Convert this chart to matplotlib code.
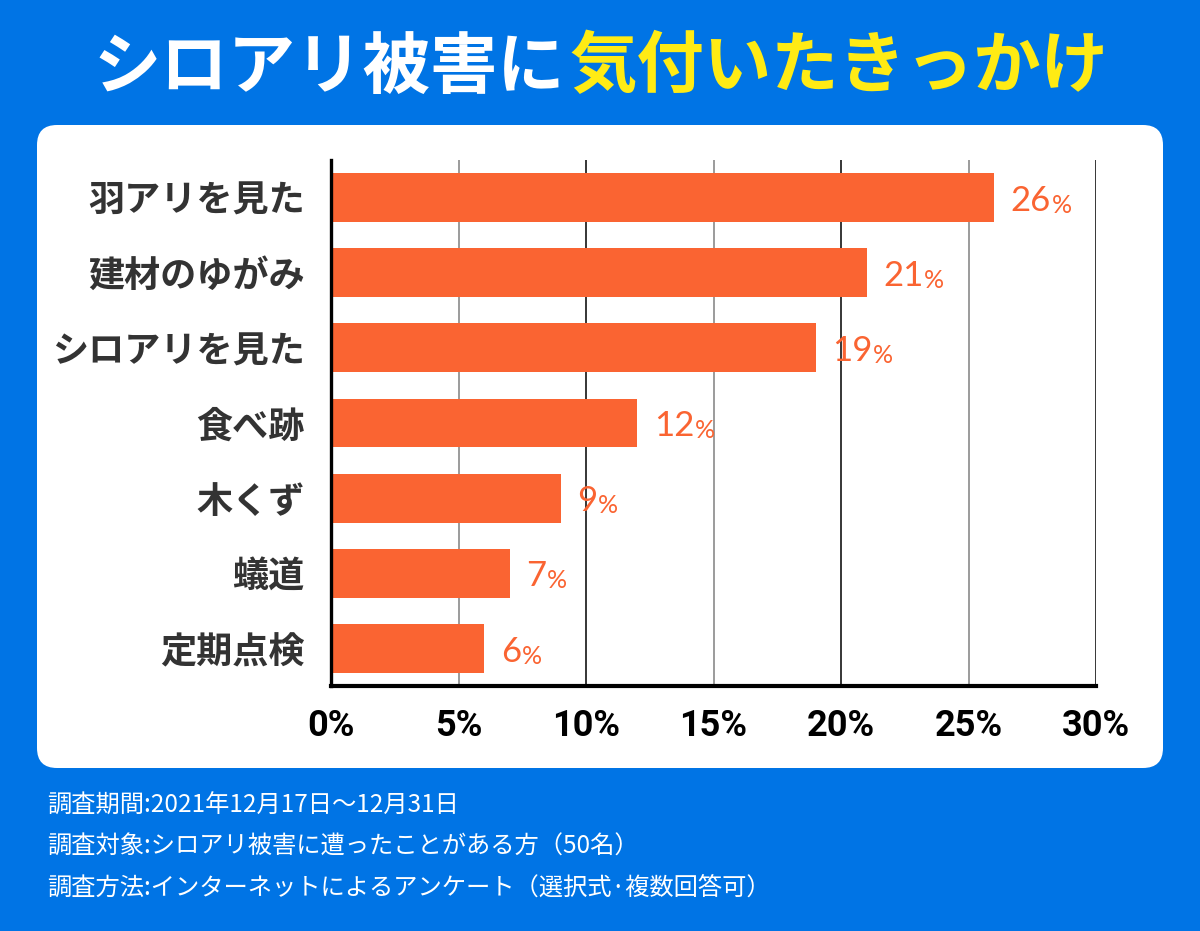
import matplotlib.pyplot as plt
from matplotlib.patches import FancyBboxPatch

# data
categories = ['羽アリを見た', '建材のゆがみ', 'シロアリを見た', '食べ跡', '木くず', '蟻道', '定期点検']
values = [26, 21, 19, 12, 9, 7, 6]
x_ticks = [0, 5, 10, 15, 20, 25, 30]
title_white = 'シロアリ被害に'
title_yellow = '気付いたきっかけ'
notes = [
    '調査期間:2021年12月17日〜12月31日',
    '調査対象:シロアリ被害に遭ったことがある方（50名）',
    '調査方法:インターネットによるアンケート（選択式·複数回答可）',
]

BLUE = '#0074E5'
ORANGE = '#FA6432'
YELLOW = '#FFEB14'
JP = ['Noto Sans CJK JP', 'DejaVu Sans']

fig = plt.figure(figsize=(12, 9.31), dpi=100, facecolor=BLUE)

# background layer in pixel units
bg = fig.add_axes([0, 0, 1, 1])
bg.set_xlim(0, 1200)
bg.set_ylim(931, 0)
bg.axis('off')
bg.add_patch(FancyBboxPatch((37, 125), 1126, 643,
                            boxstyle='round,pad=0,rounding_size=20',
                            fc='white', ec='none'))

# title in two colours
bg.text(565, 68, title_white, color='white', fontsize=48.5, fontweight='bold',
        family=JP, ha='right', va='center')
bg.text(569, 68, title_yellow, color=YELLOW, fontsize=48.5, fontweight='bold',
        family=JP, ha='left', va='center')

# survey notes
for i, note in enumerate(notes):
    bg.text(47, 806 + i * 41, note, color='white', fontsize=17.5,
            family=JP, ha='left', va='center')

# chart
ax = fig.add_axes([331 / 1200, 245 / 931, 765 / 1200, 526 / 931])
ax.set_facecolor('none')
ax.barh(range(len(values)), values, height=0.65, color=ORANGE, zorder=3)
ax.set_xlim(0, 30)
ax.set_ylim(len(values) - 0.5, -0.5)

for t in x_ticks[1:]:
    ax.axvline(t, color='black' if t % 10 == 0 else '#808080', lw=1.1, zorder=1)

ax.set_xticks(x_ticks)
ax.set_xticklabels([f'{t}%' for t in x_ticks], fontsize=26, fontweight='bold',
                   family='Roboto', color='black')
ax.set_yticks(range(len(categories)))
ax.set_yticklabels(categories, fontsize=26, fontweight='bold', family=JP, color='#333333')
ax.tick_params(axis='x', length=0, pad=16)
ax.tick_params(axis='y', length=0, pad=19)

for s in ['top', 'right']:
    ax.spines[s].set_visible(False)
ax.spines['left'].set_linewidth(2.4)
ax.spines['bottom'].set_linewidth(3)
ax.spines['left'].set_zorder(4)
ax.spines['bottom'].set_zorder(4)

# value labels with small percent sign
for i, v in enumerate(values):
    num = ax.annotate(str(v), xy=(v, i), xytext=(12, -9.5), textcoords='offset points',
                      fontsize=25, family='Lato', color=ORANGE,
                      ha='left', va='baseline')
    ax.annotate('%', xy=(1, 0), xycoords=num, xytext=(0.5, 0), textcoords='offset points',
                fontsize=18, family='Lato', color=ORANGE, ha='left', va='bottom')

fig.savefig('out.png', dpi=100, facecolor=fig.get_facecolor())
